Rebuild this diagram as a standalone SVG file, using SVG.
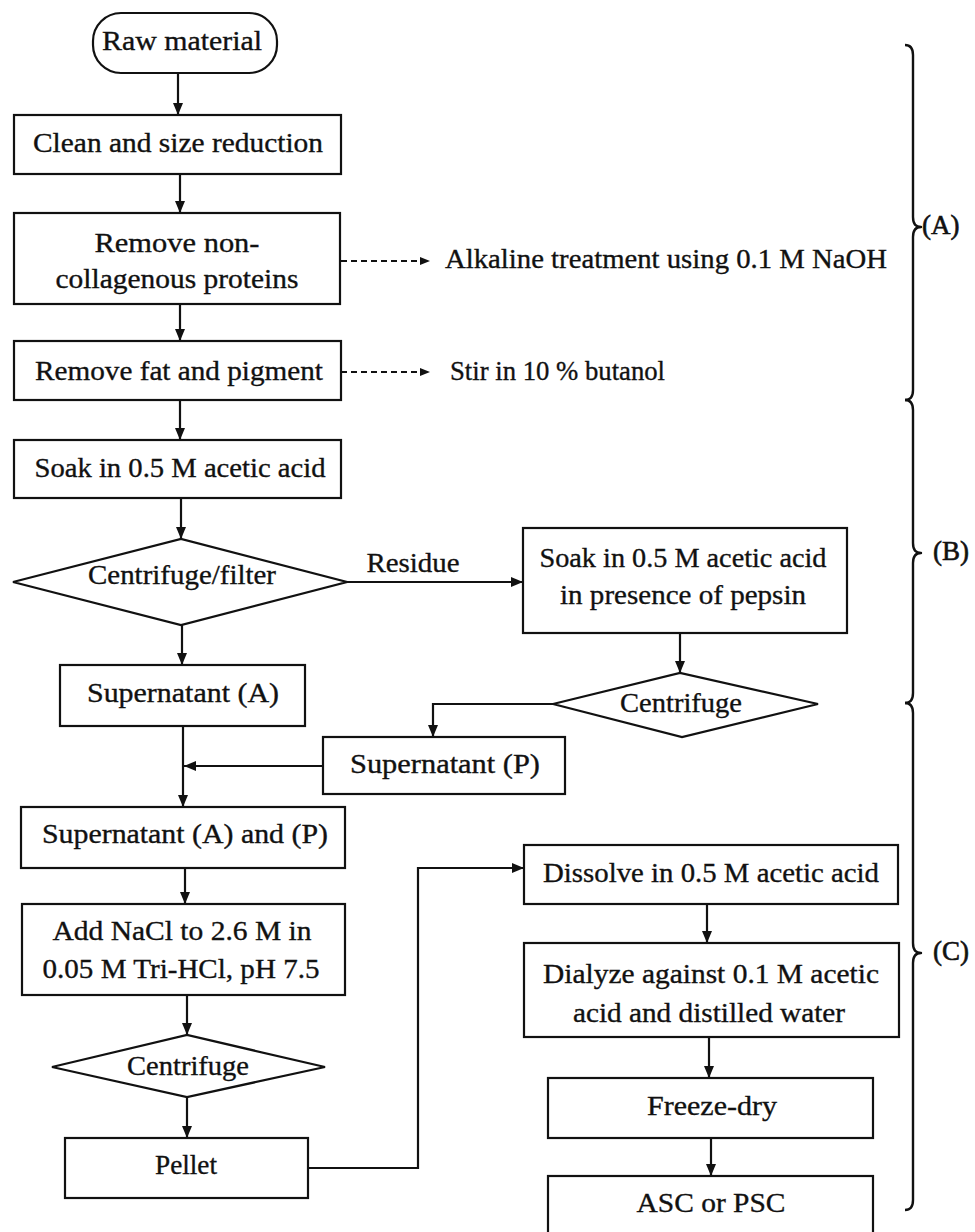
<svg xmlns="http://www.w3.org/2000/svg" width="975" height="1232" viewBox="0 0 975 1232">
  <style>
    .box { fill: #fff; stroke: #111; stroke-width: 2.2; }
    .dia { fill: #fff; stroke: #111; stroke-width: 2.2; stroke-linejoin: miter; }
    .lbl { font-family: "Liberation Serif", "Times New Roman", serif; font-size: 28px; fill: #111; stroke: #111; stroke-width: 0.35; text-anchor: middle; }
    .side { text-anchor: start; }
    .tag { font-family: "Liberation Serif", "Times New Roman", serif; font-size: 27px; fill: #111; stroke: #111; stroke-width: 0.6; }
    .edge { fill: none; stroke: #111; stroke-width: 2.2; }
    .dash { fill: none; stroke: #111; stroke-width: 2; stroke-dasharray: 6 4; }
    .brace { fill: none; stroke: #111; stroke-width: 2.4; stroke-linejoin: round; }
  </style>
  <defs>
    <marker id="arrow" markerUnits="userSpaceOnUse" markerWidth="12" markerHeight="11" refX="12" refY="5.5" orient="auto">
      <path d="M0,0.5 L12,5.5 L0,10.5 z" fill="#111"/>
    </marker>
    <marker id="arrow-small" markerUnits="userSpaceOnUse" markerWidth="10" markerHeight="9" refX="10" refY="4.5" orient="auto">
      <path d="M0,0.5 L10,4.5 L0,8.5 z" fill="#111"/>
    </marker>
  </defs>

  <rect width="975" height="1232" fill="#fff"/>

  <!-- connectors -->
  <g id="connectors">
    <line class="edge" x1="178" y1="73" x2="178" y2="115" marker-end="url(#arrow)"/>
    <line class="edge" x1="180" y1="174" x2="180" y2="213" marker-end="url(#arrow)"/>
    <line class="edge" x1="180" y1="304" x2="180" y2="341" marker-end="url(#arrow)"/>
    <line class="edge" x1="180" y1="400" x2="180" y2="440" marker-end="url(#arrow)"/>
    <line class="edge" x1="181" y1="498" x2="181" y2="539" marker-end="url(#arrow)"/>
    <line class="edge" x1="182" y1="625" x2="182" y2="665" marker-end="url(#arrow)"/>
    <line class="edge" x1="183" y1="726" x2="183" y2="807" marker-end="url(#arrow)"/>
    <line class="edge" x1="323" y1="766" x2="184" y2="766" marker-end="url(#arrow)"/>
    <line class="edge" x1="185" y1="868" x2="185" y2="904" marker-end="url(#arrow)"/>
    <line class="edge" x1="187" y1="995" x2="187" y2="1035" marker-end="url(#arrow)"/>
    <line class="edge" x1="187" y1="1097" x2="187" y2="1138" marker-end="url(#arrow)"/>

    <line class="dash" x1="341" y1="261" x2="430" y2="261" marker-end="url(#arrow-small)"/>
    <line class="dash" x1="341" y1="372" x2="430" y2="372" marker-end="url(#arrow-small)"/>

    <line class="edge" x1="347" y1="582" x2="523" y2="582" marker-end="url(#arrow)"/>
    <line class="edge" x1="680" y1="633" x2="680" y2="673" marker-end="url(#arrow)"/>
    <polyline class="edge" points="553,704 433,704 433,737" marker-end="url(#arrow)"/>

    <polyline class="edge" points="308,1168 418,1168 418,868 524,868" marker-end="url(#arrow)"/>
    <line class="edge" x1="707" y1="904" x2="707" y2="943" marker-end="url(#arrow)"/>
    <line class="edge" x1="709" y1="1037" x2="709" y2="1078" marker-end="url(#arrow)"/>
    <line class="edge" x1="711" y1="1138" x2="711" y2="1176" marker-end="url(#arrow)"/>
  </g>

  <!-- process steps -->
  <g id="raw-material">
    <rect class="box" x="93" y="13" width="184" height="60" rx="28" ry="28"/>
    <text class="lbl" x="182" y="50" textLength="160" lengthAdjust="spacingAndGlyphs">Raw material</text>
  </g>
  <g id="clean">
    <rect class="box" x="14" y="115" width="327" height="59"/>
    <text class="lbl" x="178" y="152" textLength="290" lengthAdjust="spacingAndGlyphs">Clean and size reduction</text>
  </g>
  <g id="remove-ncp">
    <rect class="box" x="14" y="213" width="326" height="91"/>
    <text class="lbl" x="177" y="252" textLength="165" lengthAdjust="spacingAndGlyphs">Remove non-</text>
    <text class="lbl" x="177" y="288" textLength="243" lengthAdjust="spacingAndGlyphs">collagenous proteins</text>
  </g>
  <g id="alkaline-note">
    <text class="lbl side" x="445" y="268" textLength="442" lengthAdjust="spacingAndGlyphs">Alkaline treatment using 0.1 M NaOH</text>
  </g>
  <g id="remove-fat">
    <rect class="box" x="14" y="341" width="327" height="59"/>
    <text class="lbl" x="179" y="380" textLength="288" lengthAdjust="spacingAndGlyphs">Remove fat and pigment</text>
  </g>
  <g id="butanol-note">
    <text class="lbl side" x="450" y="380" textLength="215" lengthAdjust="spacingAndGlyphs">Stir in 10 % butanol</text>
  </g>
  <g id="soak">
    <rect class="box" x="14" y="440" width="327" height="58"/>
    <text class="lbl" x="180" y="477" textLength="291" lengthAdjust="spacingAndGlyphs">Soak in 0.5 M acetic acid</text>
  </g>
  <g id="centrifuge-filter">
    <polygon class="dia" points="13,582 181,539 347,582 181,625"/>
    <text class="lbl" x="182" y="584" textLength="188" lengthAdjust="spacingAndGlyphs">Centrifuge/filter</text>
  </g>
  <g id="residue-label">
    <text class="lbl" x="413" y="572" textLength="93" lengthAdjust="spacingAndGlyphs">Residue</text>
  </g>
  <g id="soak-pepsin">
    <rect class="box" x="523" y="528" width="324" height="105"/>
    <text class="lbl" x="683" y="567" textLength="287" lengthAdjust="spacingAndGlyphs">Soak in 0.5 M acetic acid</text>
    <text class="lbl" x="683" y="604" textLength="246" lengthAdjust="spacingAndGlyphs">in presence of pepsin</text>
  </g>
  <g id="centrifuge-p">
    <polygon class="dia" points="553,704 680,673 818,704 682,737"/>
    <text class="lbl" x="681" y="712" textLength="122" lengthAdjust="spacingAndGlyphs">Centrifuge</text>
  </g>
  <g id="supernatant-a">
    <rect class="box" x="60" y="665" width="245" height="61"/>
    <text class="lbl" x="183" y="702" textLength="192" lengthAdjust="spacingAndGlyphs">Supernatant (A)</text>
  </g>
  <g id="supernatant-p">
    <rect class="box" x="323" y="737" width="242" height="57"/>
    <text class="lbl" x="445" y="773" textLength="190" lengthAdjust="spacingAndGlyphs">Supernatant (P)</text>
  </g>
  <g id="supernatant-ap">
    <rect class="box" x="21" y="807" width="324" height="61"/>
    <text class="lbl" x="185" y="843" textLength="286" lengthAdjust="spacingAndGlyphs">Supernatant (A) and (P)</text>
  </g>
  <g id="add-nacl">
    <rect class="box" x="22" y="904" width="323" height="91"/>
    <text class="lbl" x="182" y="940" textLength="259" lengthAdjust="spacingAndGlyphs">Add NaCl to 2.6 M in</text>
    <text class="lbl" x="181" y="978" textLength="277" lengthAdjust="spacingAndGlyphs">0.05 M Tri-HCl, pH 7.5</text>
  </g>
  <g id="centrifuge-salt">
    <polygon class="dia" points="52,1067 187,1035 325,1067 187,1097"/>
    <text class="lbl" x="188" y="1075" textLength="122" lengthAdjust="spacingAndGlyphs">Centrifuge</text>
  </g>
  <g id="pellet">
    <rect class="box" x="65" y="1138" width="243" height="60"/>
    <text class="lbl" x="186" y="1174" textLength="62" lengthAdjust="spacingAndGlyphs">Pellet</text>
  </g>
  <g id="dissolve">
    <rect class="box" x="524" y="845" width="374" height="59"/>
    <text class="lbl" x="711" y="882" textLength="336" lengthAdjust="spacingAndGlyphs">Dissolve in 0.5 M acetic acid</text>
  </g>
  <g id="dialyze">
    <rect class="box" x="524" y="943" width="375" height="94"/>
    <text class="lbl" x="711" y="983" textLength="336" lengthAdjust="spacingAndGlyphs">Dialyze against 0.1 M acetic</text>
    <text class="lbl" x="709" y="1022" textLength="272" lengthAdjust="spacingAndGlyphs">acid and distilled water</text>
  </g>
  <g id="freeze-dry">
    <rect class="box" x="548" y="1078" width="325" height="60"/>
    <text class="lbl" x="712" y="1115" textLength="130" lengthAdjust="spacingAndGlyphs">Freeze-dry</text>
  </g>
  <g id="product">
    <rect class="box" x="548" y="1176" width="325" height="70"/>
    <text class="lbl" x="711" y="1212" textLength="149" lengthAdjust="spacingAndGlyphs">ASC or PSC</text>
  </g>

  <!-- stage braces -->
  <g id="stage-a">
    <path class="brace" d="M905,45 Q913,45 913,55 L913,217 Q913,227 921,227 Q913,227 913,237 L913,390 Q913,400 905,400"/>
    <text class="tag" x="922" y="234">(A)</text>
  </g>
  <g id="stage-b">
    <path class="brace" d="M905,400 Q913,400 913,410 L913,543 Q913,553 921,553 Q913,553 913,563 L913,693 Q913,703 905,703"/>
    <text class="tag" x="933" y="560">(B)</text>
  </g>
  <g id="stage-c">
    <path class="brace" d="M905,703 Q913,703 913,713 L913,943 Q913,953 921,953 Q913,953 913,963 L913,1200 Q913,1210 905,1210"/>
    <text class="tag" x="933" y="960">(C)</text>
  </g>
</svg>
